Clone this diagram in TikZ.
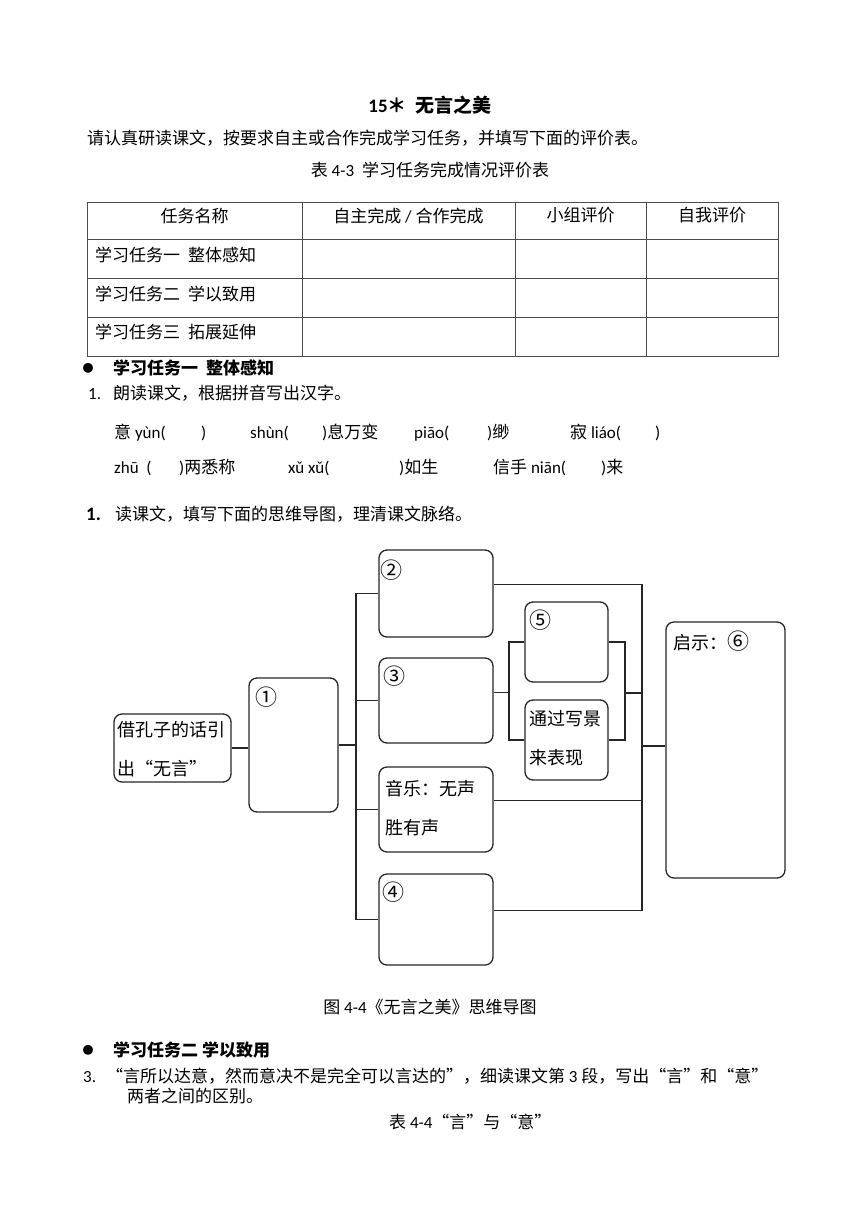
\documentclass[tikz,border=0pt]{standalone}
\usepackage{fontspec}
\setmainfont{Carlito}
\newfontfamily\cjk{Noto Sans CJK SC}

\begin{document}
\begin{tikzpicture}[x=1pt,y=-1pt,
		txt/.style={inner sep=0pt,anchor=base west,font=\fontsize{17}{20}\selectfont},
		ctxt/.style={txt,anchor=base},
		grid/.style={draw=black!70,line width=0.8pt},
		box/.style={draw=black!85,line width=1.3pt,rounded corners=8pt,inner sep=0pt},
		hand/.style={inner sep=0pt,anchor=north west,align=left,font=\cjk\fontsize{18}{39}\selectfont},
		num/.style={inner sep=0pt,font=\cjk\fontsize{22}{22}\selectfont},
		link/.style={draw=black!85,line width=1.2pt}]
		\useasboundingbox (0,0) rectangle (860,1216);
		
		\node[ctxt,font=\bfseries\fontsize{19}{22}\selectfont] (title) at (430,112) {15{\cjk ＊}\hspace{9pt}{\cjk 无言之美}};
		\node[txt] (intro) at (87,144) {\cjk 请认真研读课文，按要求自主或合作完成学习任务，并填写下面的评价表。};
		\node[ctxt] (tab43) at (430,176) {{\cjk 表} 4-3\hspace{8pt}{\cjk 学习任务完成情况评价表}};
		
		% table
		\draw[grid] (87,202) rectangle (778,356);
		\foreach \y in {239,278,317} \draw[grid] (87,\y) -- (778,\y);
		\foreach \x in {302,515,646} \draw[grid] (\x,202) -- (\x,356);
		\node[ctxt] (h1) at (194.5,222) {\cjk 任务名称};
		\node[ctxt] (h2) at (408.5,222) {{\cjk 自主完成} / {\cjk 合作完成}};
		\node[ctxt] (h3) at (580.5,221) {\cjk 小组评价};
		\node[ctxt] (h4) at (712,221) {\cjk 自我评价};
		\node[txt] (r1) at (95,261) {\cjk 学习任务一\hspace{8pt}整体感知};
		\node[txt] (r2) at (95,300) {\cjk 学习任务二\hspace{8pt}学以致用};
		\node[txt] (r3) at (95,338) {\cjk 学习任务三\hspace{8pt}拓展延伸};
		
		\node[num,font=\cjk\fontsize{11}{11}\selectfont] (dot1) at (88,368) {●};
		\node[txt,font=\cjk\bfseries\fontsize{17}{20}\selectfont] (task1) at (113,374) {学习任务一\hspace{8pt}整体感知};
		\node[txt] (q1) at (88,399) {1.\hspace{12pt}{\cjk 朗读课文，根据拼音写出汉字。}};
		
		\node[txt] (p1) at (114,438) {{\cjk 意} yùn(};
		\node[txt] (p1b) at (201,438) {)};
		\node[txt] (p2) at (250,438) {shùn(};
		\node[txt] (p2b) at (322,438) {){\cjk 息万变}};
		\node[txt] (p3) at (414,438) {piāo(};
		\node[txt] (p3b) at (487,438) {){\cjk 缈}};
		\node[txt] (p4) at (570,438) {{\cjk 寂} liáo(};
		\node[txt] (p4b) at (655,438) {)};
		\node[txt] (p5) at (114,473) {zhū\ \ (};
		\node[txt] (p5b) at (179,473) {){\cjk 两悉称}};
		\node[txt] (p6) at (288,473) {xǔ xǔ(};
		\node[txt] (p6b) at (399,473) {){\cjk 如生}};
		\node[txt] (p7) at (493,473) {{\cjk 信手} niān(};
		\node[txt] (p7b) at (601,473) {){\cjk 来}};
		
		\node[txt,font=\bfseries\fontsize{19}{22}\selectfont] (q2n) at (86,520) {1.};
		\node[txt] (q2) at (115,520) {\cjk 读课文，填写下面的思维导图，理清课文脉络。};
		
		% mind map
		\node[box,minimum width=117pt,minimum height=68pt] (start) at (172.5,748) {};
		\node[box,minimum width=89pt,minimum height=134pt] (n1) at (293.5,745) {};
		\node[box,minimum width=114pt,minimum height=87pt] (n2) at (436,593.5) {};
		\node[box,minimum width=114pt,minimum height=85pt] (n3) at (436,700.5) {};
		\node[box,minimum width=114pt,minimum height=85pt] (music) at (436,809.5) {};
		\node[box,minimum width=114pt,minimum height=91pt] (n4) at (436,919.5) {};
		\node[box,minimum width=83pt,minimum height=80pt] (n5) at (566.5,642) {};
		\node[box,minimum width=83pt,minimum height=80pt] (scene) at (566.5,740) {};
		\node[box,minimum width=119pt,minimum height=256pt] (n6) at (725.5,750) {};
		
		\node[hand] (starttxt) at (117,721) {借孔子的话引\\出“无言”};
		\node[hand] (musictxt) at (385,780) {音乐：无声\\胜有声};
		\node[hand] (scenetxt) at (529,710) {通过写景\\来表现};
		\node[num] (c1) at (266,697) {①};
		\node[num] (c2) at (391,570) {②};
		\node[num] (c3) at (394,676) {③};
		\node[num] (c4) at (393,892) {④};
		\node[num] (c5) at (540,620) {⑤};
		\node[num,anchor=west] (c6) at (673,641) {\fontsize{18}{20}\selectfont 启示：\fontsize{22}{22}\selectfont ⑥};
		
		\coordinate (ltrunk) at (356,747);
		\coordinate (rtrunk) at (642,746);
		\coordinate (sl) at (509,693);
		\coordinate (sr) at (625,693);
		
		\draw[link] (start.east) -- (start.east -| n1.west);
		\draw[link] (n1.east) -- (n1.east -| ltrunk);
		\draw[link] (n2.west) -- (n2.west -| ltrunk) -- (n4.west -| ltrunk) -- (n4.west);
		\draw[link] (n3.west) -- (n3.west -| ltrunk);
		\draw[link] (music.west) -- (music.west -| ltrunk);
		\draw[link] ([yshift=9pt]n2.east) -- ([yshift=9pt]n2.east -| rtrunk) -- ([yshift=9pt]n4.east -| rtrunk) -- ([yshift=9pt]n4.east);
		\draw[link] ([yshift=9pt]music.east) -- ([yshift=9pt]music.east -| rtrunk);
		\draw[link] ([yshift=8pt]n3.east) -- ([yshift=8pt]n3.east -| sl);
		\draw[link] (n5.west) -- (n5.west -| sl) -- (scene.west -| sl) -- (scene.west);
		\draw[link] (n5.east) -- (n5.east -| sr) -- (scene.east -| sr) -- (scene.east);
		\draw[link] (sr) -- (sr -| rtrunk);
		\draw[link] (rtrunk) -- (rtrunk -| n6.west);
		
		\node[ctxt] (cap) at (430,1013) {{\cjk 图} 4-4{\cjk 《无言之美》思维导图}};
		\node[num,font=\cjk\fontsize{11}{11}\selectfont] (dot2) at (88,1050) {●};
		\node[txt,font=\cjk\bfseries\fontsize{17}{20}\selectfont] (task2) at (113,1056) {学习任务二\hspace{4pt}学以致用};
		\node[txt] (q3) at (83,1082) {3.\hspace{10pt}{\cjk “言所以达意，然而意决不是完全可以言达的”，细读课文第} 3 {\cjk 段，写出“言”和“意”}};
		\node[txt] (q3b) at (127,1102) {\cjk 两者之间的区别。};
		\node[txt] (tab44) at (389,1128) {{\cjk 表} 4-4{\cjk “言”与“意”}};
	\end{tikzpicture}
\end{document}
